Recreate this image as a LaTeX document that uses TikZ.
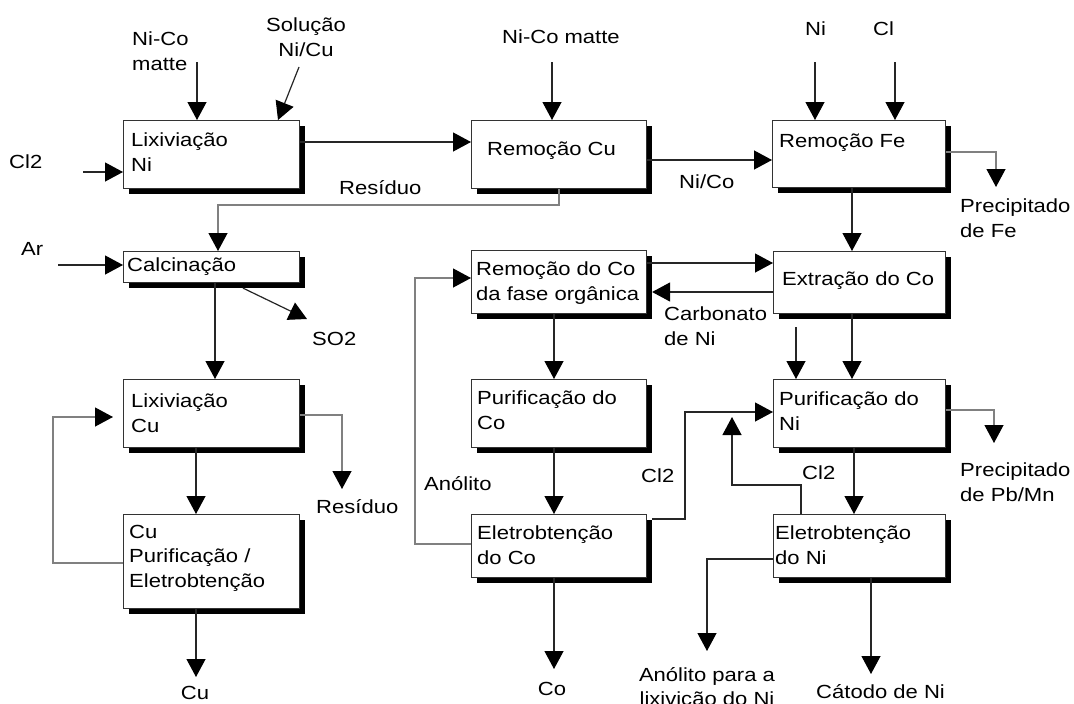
\documentclass[tikz,border=0pt]{standalone}
\usepackage{fontspec}
\setmainfont{Liberation Sans}[FakeStretch=1.16]
\usetikzlibrary{arrows.meta,calc,shadows}

\tikzset{
  txtfont/.style={font=\fontsize{19}{24.5}\selectfont},
  procbox/.style={draw=black!80, line width=1.1pt, fill=white, inner sep=0pt,
    anchor=north west,
    drop shadow={shadow xshift=5pt, shadow yshift=-5pt, opacity=1, fill=black}},
  boxtext/.style={txtfont, inner sep=0pt, anchor=north west, align=left},
  lbl/.style={txtfont, inner sep=0pt, anchor=north west, align=left},
  clbl/.style={txtfont, inner sep=0pt, anchor=north, align=center},
  arr/.style={draw=black!85, line width=1.2pt,
    -{Triangle[width=19pt,length=18pt,color=black]}},
  arrg/.style={arr, draw=black!50},
}

\begin{document}
\begin{tikzpicture}[x=1pt, y=-1pt]
  % canvas
  \fill[white] (0,0) rectangle (1074,704);
  \useasboundingbox (0,0) rectangle (1074,704);

  % process boxes
  \node[procbox, minimum width=176pt, minimum height=68pt] (lixNi) at (123,120) {};
  \node[procbox, minimum width=175pt, minimum height=68pt] (remCu) at (471,120) {};
  \node[procbox, minimum width=173pt, minimum height=67pt] (remFe) at (772,120) {};
  \node[procbox, minimum width=176pt, minimum height=31pt] (calc)  at (123,251) {};
  \node[procbox, minimum width=176pt, minimum height=68pt] (lixCu) at (123,379) {};
  \node[procbox, minimum width=176pt, minimum height=94pt] (cuPE)  at (123,514) {};
  \node[procbox, minimum width=175pt, minimum height=63pt] (remCo) at (471,250) {};
  \node[procbox, minimum width=175pt, minimum height=68pt] (purCo) at (471,379) {};
  \node[procbox, minimum width=175pt, minimum height=63pt] (eleCo) at (471,514) {};
  \node[procbox, minimum width=172pt, minimum height=62pt] (extCo) at (773,251) {};
  \node[procbox, minimum width=172pt, minimum height=68pt] (purNi) at (773,379) {};
  \node[procbox, minimum width=172pt, minimum height=63pt] (eleNi) at (773,514) {};

  % box captions
  \node[boxtext] (lixNiT) at (131,133) {Lixiviação\\Ni};
  \node[boxtext] (remCuT) at (487,142) {Remoção Cu};
  \node[boxtext] (remFeT) at (779,134) {Remoção Fe};
  \node[boxtext] (calcT)  at (127,258) {Calcinação};
  \node[boxtext] (lixCuT) at (131,394) {Lixiviação\\Cu};
  \node[boxtext] (cuPET)  at (129,525) {Cu\\Purificação /\\Eletrobtenção};
  \node[boxtext] (remCoT) at (476,262) {Remoção do Co\\da fase orgânica};
  \node[boxtext] (purCoT) at (477,391) {Purificação do\\Co};
  \node[boxtext] (eleCoT) at (477,526) {Eletrobtenção\\do Co};
  \node[boxtext] (extCoT) at (782,272) {Extração do Co};
  \node[boxtext] (purNiT) at (779,392) {Purificação do\\Ni};
  \node[boxtext] (eleNiT) at (775,526) {Eletrobtenção\\do Ni};

  % stream labels
  \node[lbl]  (lNiCo1) at (132,32)  {Ni-Co\\matte};
  \node[clbl] (lSol)   at (306,18)  {Solução\\Ni/Cu};
  \node[lbl]  (lCl2a)  at (9,155)   {Cl2};
  \node[lbl]  (lRes1)  at (339,180) {Resíduo};
  \node[lbl]  (lNiCo2) at (502,30)  {Ni-Co matte};
  \node[lbl]  (lNiCo3) at (679,175) {Ni/Co};
  \node[lbl]  (lNi)    at (805,22)  {Ni};
  \node[lbl]  (lCl)    at (873,22)  {Cl};
  \node[lbl]  (lPFe)   at (960,199) {Precipitado\\de Fe};
  \node[lbl]  (lAr)    at (21,242)  {Ar};
  \node[lbl]  (lSO2)   at (312,332) {SO2};
  \node[lbl]  (lRes2)  at (316,499) {Resíduo};
  \node[clbl] (lCu)    at (195,686) {Cu};
  \node[lbl]  (lCarb)  at (664,307) {Carbonato\\de Ni};
  \node[lbl]  (lAn)    at (424,476) {Anólito};
  \node[lbl]  (lCl2b)  at (641,469) {Cl2};
  \node[clbl] (lCo)    at (552,682) {Co};
  \node[lbl]  (lCl2c)  at (802,466) {Cl2};
  \node[lbl]  (lPPb)   at (960,463) {Precipitado\\de Pb/Mn};
  \node[clbl] (lAnNi)  at (707,667) {Anólito para a\\lixivição do Ni};
  \node[lbl]  (lCat)   at (816,684) {Cátodo de Ni};

  % free ends and bends of the streams
  \coordinate (cNiCo1) at (197,62);
  \coordinate (cSol)   at (299,67);
  \coordinate (cCl2)   at (83,172);
  \coordinate (cNiCo2) at (552,62);
  \coordinate (cRes)   at (218,205);
  \coordinate (cNi)    at (815,62);
  \coordinate (cCl)    at (895,62);
  \coordinate (cPFe)   at (996,187);
  \coordinate (cAr)    at (58,265);
  \coordinate (cSO2)   at (307,319);
  \coordinate (cRes2)  at (342,489);
  \coordinate (cFb)    at (53,417);
  \coordinate (cFbEnd) at (113,417);
  \coordinate (cCu)    at (196,677);
  \coordinate (cCo)    at (554,669);
  \coordinate (cAn)    at (415,278);
  \coordinate (cCl2a)  at (685,412);
  \coordinate (cCl2b)  at (732,485);
  \coordinate (cCl2bE) at (732,417);
  \coordinate (cFree)  at (796,327);
  \coordinate (cPPb)   at (994,443);
  \coordinate (cAnNi)  at (707,651);
  \coordinate (cCat)   at (871,674);

  % feeds into the nickel leach
  \draw[arr] (cNiCo1) -- (lixNi.north -| cNiCo1);
  \draw[arr] (cSol) -- ($(lixNi.north west)+(155,0)$);
  \draw[arr] (cCl2) -- (lixNi.west |- cCl2);
  \draw[arr] ($(lixNi.north east)+(0,22)$) -- ($(remCu.north west)+(0,22)$);

  % copper removal and iron removal
  \draw[arr] (cNiCo2) -- (remCu.north -| cNiCo2);
  \draw[arr] ($(remCu.north east)+(0,40)$) -- ($(remFe.north west)+(0,40)$);
  \draw[arrg] ($(remCu.south west)+(88,0)$) |- (cRes) -- (calc.north -| cRes);
  \draw[arr] (cNi) -- (remFe.north -| cNi);
  \draw[arr] (cCl) -- (remFe.north -| cCl);
  \draw[arrg] ($(remFe.north east)+(0,32)$) -| (cPFe);
  \draw[arr] ($(remFe.south west)+(80,0)$) -- ($(extCo.north west)+(79,0)$);

  % copper line
  \draw[arr] (cAr) -- (calc.west |- cAr);
  \draw[arr] ($(calc.south west)+(120,5)$) -- (cSO2);
  \draw[arr] ($(calc.south west)+(92,0)$) -- ($(lixCu.north west)+(92,0)$);
  \draw[arrg] ($(lixCu.north east)+(0,36)$) -| (cRes2);
  \draw[arr] ($(lixCu.south west)+(73,0)$) -- ($(cuPE.north west)+(73,0)$);
  \draw[arrg] ($(cuPE.north west)+(0,49)$) -| (cFb) -- (cFbEnd);
  \draw[arr] ($(cuPE.south west)+(73,0)$) -- (cCu);

  % cobalt line
  \draw[arr] ($(remCo.north east)+(0,13)$) -- ($(extCo.north west)+(0,12)$);
  \draw[arr] ($(extCo.north west)+(0,41)$) -- ($(remCo.north east)+(5,42)$);
  \draw[arr] ($(remCo.south west)+(83,0)$) -- ($(purCo.north west)+(83,0)$);
  \draw[arr] ($(purCo.south west)+(83,0)$) -- ($(eleCo.north west)+(83,0)$);
  \draw[arr] ($(eleCo.south west)+(83,0)$) -- (cCo);
  \draw[arrg] ($(eleCo.north west)+(0,30)$) -| (cAn) -- (remCo.west |- cAn);
  \draw[arr] ($(eleCo.north east)+(5,5)$) -| (cCl2a) -- (purNi.west |- cCl2a);

  % nickel line
  \draw[arr] ($(extCo.south west)+(79,0)$) -- ($(purNi.north west)+(79,0)$);
  \draw[arr] (cFree) -- (purNi.north -| cFree);
  \draw[arrg] ($(purNi.north east)+(0,31)$) -| (cPPb);
  \draw[arr] ($(purNi.south west)+(81,0)$) -- ($(eleNi.north west)+(81,0)$);
  \draw[arr] ($(eleNi.north west)+(28,0)$) |- (cCl2b) -- (cCl2bE);
  \draw[arr] ($(eleNi.north west)+(0,45)$) -| (cAnNi);
  \draw[arr] ($(eleNi.south west)+(98,0)$) -- (cCat);
\end{tikzpicture}
\end{document}
